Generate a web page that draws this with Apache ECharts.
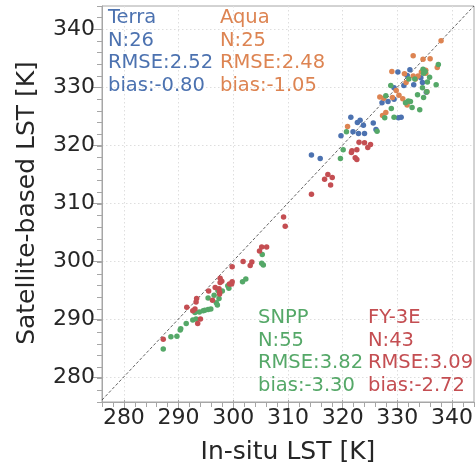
<!DOCTYPE html>
<html>
<head>
<meta charset="utf-8">
<script src="https://cdn.jsdelivr.net/npm/echarts@6/dist/echarts.min.js"></script>
<style>
  html, body { margin: 0; padding: 0; background: #ffffff; }
  #chart { width: 476px; height: 470px; }
</style>
</head>
<body>
<div id="chart"></div>
<script>
// Axis range and labelled ticks (Kelvin)
const axisMin = 276;
const axisMax = 344;
const tickValues = [280, 290, 300, 310, 320, 330, 340];

// [in-situ LST, satellite LST] pairs per sensor
const terraPoints = [
  [332.3, 333.0], [331.8, 332.0], [329.4, 329.9], [331.2, 330.3], [333.0, 330.4],
  [334.6, 330.8], [334.3, 331.6], [335.3, 329.1], [328.3, 327.5], [327.2, 327.3],
  [329.4, 327.9], [330.2, 324.7], [330.7, 324.8], [321.5, 324.8], [322.7, 323.9],
  [323.2, 324.3], [323.8, 323.4], [325.6, 323.8], [326.1, 322.7], [321.9, 322.3],
  [322.9, 322.0], [324.0, 322.0], [319.7, 321.6], [314.3, 318.3], [315.9, 317.7],
  [330.1, 332.6]
];
const aquaPoints = [
  [338.0, 338.0], [332.9, 335.4], [336.0, 334.9], [334.7, 334.8], [337.3, 333.4],
  [329.0, 332.7], [331.3, 332.3], [332.9, 331.9], [333.8, 331.9], [334.4, 332.6],
  [335.2, 332.9], [335.2, 332.4], [333.3, 331.4], [331.6, 330.8], [329.8, 329.4],
  [330.3, 328.6], [335.4, 329.2], [331.8, 326.9], [326.8, 328.3], [327.5, 328.1],
  [329.1, 328.2], [327.9, 325.6], [327.3, 325.1], [320.9, 323.2], [331.0, 328.0]
];
const snppPoints = [
  [337.5, 333.9], [334.7, 333.1], [335.1, 332.7], [334.8, 332.4], [335.9, 331.7],
  [333.2, 331.4], [332.1, 331.4], [335.5, 330.9], [337.1, 330.4], [334.6, 329.9],
  [335.4, 329.2], [333.7, 328.7], [334.8, 328.2], [328.8, 330.3], [327.9, 328.5],
  [332.0, 327.6], [332.4, 327.5], [331.5, 327.3], [332.7, 326.5], [334.1, 326.1],
  [328.9, 326.3], [329.4, 324.8], [327.7, 324.7], [320.7, 322.3], [326.3, 322.4],
  [320.1, 319.2], [319.6, 317.7], [305.3, 301.1], [305.2, 299.6], [305.5, 299.3],
  [302.3, 296.9], [301.7, 296.4], [299.0, 295.7], [299.2, 295.3], [298.0, 294.8],
  [297.2, 294.9], [296.5, 294.1], [297.4, 293.5], [295.4, 293.6], [296.9, 292.8],
  [297.1, 292.4], [295.9, 291.7], [295.4, 291.6], [294.8, 291.5], [294.5, 291.4],
  [293.8, 291.2], [293.0, 291.1], [292.6, 289.8], [293.2, 290.0], [291.4, 289.2],
  [290.4, 288.3], [290.3, 288.1], [289.7, 287.0], [288.6, 286.9], [287.2, 284.8]
];
const fy3ePoints = [
  [323.0, 320.5], [324.0, 320.4], [325.1, 320.1], [324.6, 319.6], [322.6, 319.2],
  [321.7, 319.0], [321.6, 318.7], [322.3, 317.8], [322.6, 317.5], [317.3, 314.9],
  [316.7, 314.1], [318.1, 314.4], [317.8, 313.1], [314.3, 311.5], [309.2, 307.6],
  [309.5, 306.0], [305.2, 302.4], [306.1, 302.4], [304.8, 301.7], [301.8, 299.9],
  [303.4, 299.8], [303.1, 299.2], [299.8, 299.0], [297.6, 297.0], [297.9, 296.5],
  [297.6, 296.3], [299.8, 296.4], [299.7, 296.0], [299.3, 296.0], [295.5, 294.8],
  [296.7, 295.4], [297.4, 295.2], [297.5, 294.6], [297.5, 294.3], [296.2, 293.2],
  [293.3, 293.5], [293.2, 292.9], [291.5, 292.0], [293.0, 291.7], [292.6, 291.4],
  [294.0, 290.0], [293.5, 289.2], [287.2, 286.5]
];

// Sensor names and summary statistics
const sensorNames = ['Terra', 'Aqua', 'SNPP', 'FY-3E'];
const sampleCounts = [26, 25, 55, 43];
const rmseValues = ['2.52', '2.48', '3.82', '3.09'];
const biasValues = ['-0.80', '-1.05', '-3.30', '-2.72'];
const sensorColors = ['#4c72b0', '#dd8452', '#55a868', '#c44e52'];

const FONT = 'DejaVu Sans';
const INK = '#262626';
const SPINE = '#a6a6a6';
const GRIDLINE = '#dedede';

const plotRect = { left: 102, top: 6, width: 372, height: 396 };

const chart = echarts.init(document.getElementById('chart'), null, { renderer: 'canvas' });

// Grid 0 carries the frame and the 2 K minor ticks; grid 1 carries the labelled axes and data.
function minorAxis() {
  return {
    gridIndex: 0,
    type: 'value', min: axisMin, max: axisMax, interval: 2,
    axisLine: { show: true, lineStyle: { color: SPINE, width: 1 } },
    axisTick: { show: true, length: 5, lineStyle: { color: SPINE, width: 1 } },
    axisLabel: { show: false },
    splitLine: { show: false }
  };
}
function majorAxis(name, nameGap) {
  return {
    gridIndex: 1,
    type: 'value', min: axisMin, max: axisMax,
    axisLine: { show: false },
    axisTick: { show: true, length: 10, customValues: tickValues, lineStyle: { color: SPINE, width: 1 } },
    axisLabel: { customValues: tickValues, fontSize: 22, color: INK, fontFamily: FONT, margin: 7 },
    splitLine: { show: true, lineStyle: { color: GRIDLINE, width: 1, type: [1.5, 2.5] } },
    name: name,
    nameLocation: 'middle',
    nameGap: nameGap,
    nameTextStyle: { fontSize: 25, color: INK, fontFamily: FONT }
  };
}

const pointSets = [terraPoints, aquaPoints, snppPoints, fy3ePoints];

const scatterSeries = pointSets.map((pts, i) => ({
  name: sensorNames[i],
  type: 'scatter',
  xAxisIndex: 1,
  yAxisIndex: 1,
  data: pts,
  symbol: 'circle',
  symbolSize: 5.5,
  itemStyle: { color: sensorColors[i], opacity: 1 },
  z: 3 + i
}));

// Statistics blocks: [left, top] of each text block
const statAnchors = [[108, 7], [220, 7], [258, 307], [368, 307]];
const statTexts = sensorNames.map((name, i) => ({
  type: 'text',
  left: statAnchors[i][0],
  top: statAnchors[i][1],
  z: 10,
  style: {
    text: [name, 'N:' + sampleCounts[i], 'RMSE:' + rmseValues[i], 'bias:' + biasValues[i]].join('\n'),
    fontSize: 19.5,
    lineHeight: 22.5,
    fontFamily: FONT,
    fill: sensorColors[i]
  }
}));

chart.setOption({
  animation: false,
  backgroundColor: '#ffffff',
  grid: [
    Object.assign({ show: true, borderColor: SPINE, borderWidth: 1, backgroundColor: 'transparent' }, plotRect),
    Object.assign({}, plotRect)
  ],
  xAxis: [minorAxis(), majorAxis('In-situ LST [K]', 40)],
  yAxis: [minorAxis(), majorAxis('Satellite-based LST [K]', 62)],
  series: [
    {
      type: 'line',
      xAxisIndex: 1,
      yAxisIndex: 1,
      data: [[axisMin, axisMin], [axisMax, axisMax]],
      symbol: 'none',
      silent: true,
      lineStyle: { color: '#3a3a3a', width: 0.8, type: [3, 2] },
      z: 2
    }
  ].concat(scatterSeries),
  graphic: statTexts
});
</script>
</body>
</html>
